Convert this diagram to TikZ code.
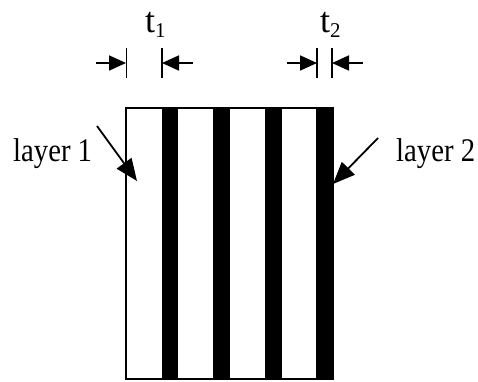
\documentclass[tikz,border=0pt]{standalone}
\usepackage{fontspec}
\setmainfont{Liberation Serif}
\usetikzlibrary{arrows.meta}
\begin{document}
\begin{tikzpicture}[x=1pt,y=-1pt,
  tick/.style={line width=1.6pt},
  dimarrow/.style={line width=1.8pt,-{Triangle[length=17pt,width=15pt]}},
  callout/.style={line width=1.8pt,-{Triangle[length=22pt,width=18pt]}},
  lbl/.style={inner sep=0pt,font=\fontsize{33}{33}\selectfont,xscale=0.87},
  tlbl/.style={inner sep=0pt,font=\fontsize{36}{36}\selectfont}]
\useasboundingbox (0,0) rectangle (478,381);
% body
\fill[black] (162,108) rectangle (178,379);
\fill[black] (213,108) rectangle (230,379);
\fill[black] (265,108) rectangle (282,379);
\fill[black] (316,108) rectangle (333,379);
\draw[line width=1.6pt] (126,108) rectangle (333,379);
% t1 dimension
\draw[tick] (126.5,48) -- (126.5,78);
\draw[tick] (162,48) -- (162,78);
\coordinate (a1) at (96,63); \coordinate (a1t) at (126,63);
\coordinate (b1) at (193,63); \coordinate (b1t) at (162,63);
\draw[dimarrow] (a1) -- (a1t);
\draw[dimarrow] (b1) -- (b1t);
\node[tlbl,anchor=base west] (t1) at (145,32.5) {t\raisebox{-5pt}{\fontsize{21}{21}\selectfont 1}};
% t2 dimension
\draw[tick] (317,48) -- (317,78);
\draw[tick] (332,48) -- (332,78);
\coordinate (a2) at (287,63); \coordinate (a2t) at (317,63);
\coordinate (b2) at (363,63); \coordinate (b2t) at (332,63);
\draw[dimarrow] (a2) -- (a2t);
\draw[dimarrow] (b2) -- (b2t);
\node[tlbl,anchor=base west] (t2) at (320,32.5) {t\raisebox{-5pt}{\fontsize{21}{21}\selectfont 2}};
% layer labels
\node[lbl,anchor=base west] (l1) at (13,161) {layer 1};
\coordinate (l1s) at (97,126); \coordinate (l1t) at (137,181);
\draw[callout] (l1s) -- (l1t);
\node[lbl,anchor=base west] (l2) at (396,161) {layer 2};
\coordinate (l2s) at (378,138); \coordinate (l2t) at (333,184);
\draw[callout] (l2s) -- (l2t);
\end{tikzpicture}
\end{document}
